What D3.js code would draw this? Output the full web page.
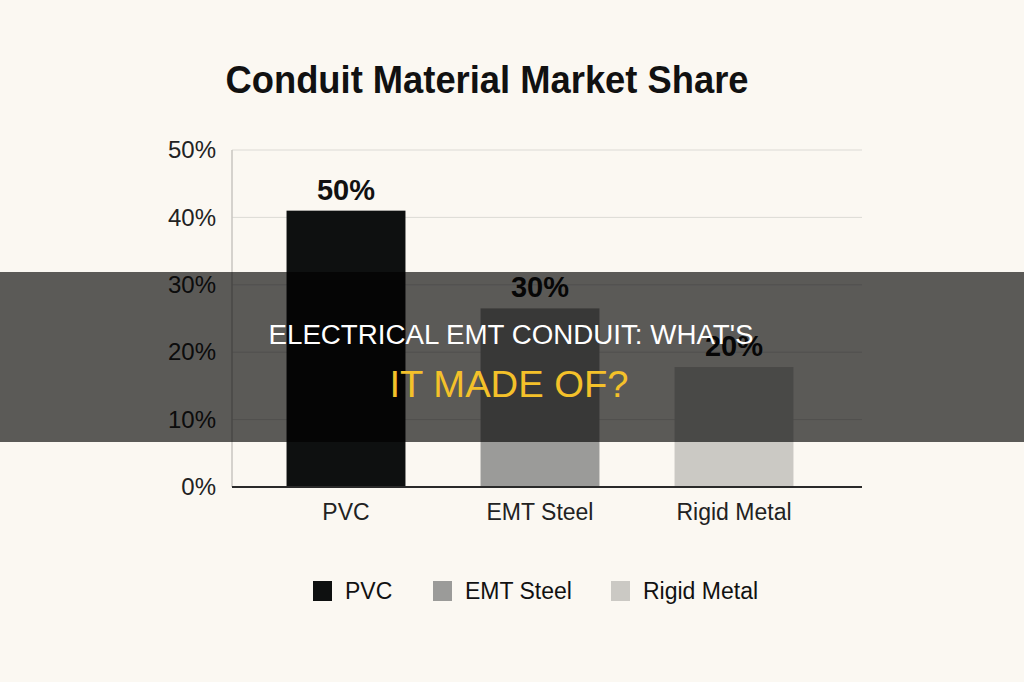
<!DOCTYPE html>
<html>
<head>
<meta charset="utf-8">
<script src="https://cdn.jsdelivr.net/npm/d3@7"></script>
<style>
  html, body { margin: 0; padding: 0; background: #fbf8f2; }
  svg { display: block; }
</style>
</head>
<body>
<div id="chart"></div>
<script>
// chart data
const categories = ["PVC", "EMT Steel", "Rigid Metal"];
const barValues = [41, 26.5, 17.8];          // bar heights as drawn
const barLabels = ["50%", "30%", "20%"];     // labels printed above bars
const barColors = ["#0e1010", "#9b9b99", "#cbc9c4"];
const yTicks = [0, 10, 20, 30, 40, 50];
const titleText = "Conduit Material Market Share";
const bannerLines = ["ELECTRICAL EMT CONDUIT: WHAT'S", "IT MADE OF?"];

const width = 1024, height = 682;
const svg = d3.select("#chart").append("svg")
    .attr("width", width)
    .attr("height", height);

svg.append("rect").attr("width", width).attr("height", height).attr("fill", "#fbf8f2");

const plot = {left: 232, right: 862, top: 150, bottom: 487};

const y = d3.scaleLinear().domain([0, 50]).range([plot.bottom, plot.top]);
const x = d3.scaleBand().domain(categories).range([249, 831])
    .paddingInner(0.387).paddingOuter(0.1935);
const color = d3.scaleOrdinal().domain(categories).range(barColors);

// title
svg.append("text")
    .attr("x", 487).attr("y", 93)
    .attr("text-anchor", "middle")
    .attr("font-family", "Liberation Sans, Arial, sans-serif")
    .attr("font-weight", "bold")
    .attr("font-size", 38)
    .attr("fill", "#111")
    .attr("textLength", 523)
    .attr("lengthAdjust", "spacingAndGlyphs")
    .text(titleText);

// gridlines
svg.append("g")
    .selectAll("line")
    .data(yTicks.filter(d => d > 0))
    .join("line")
    .attr("x1", plot.left).attr("x2", plot.right)
    .attr("y1", d => y(d)).attr("y2", d => y(d))
    .attr("stroke", "#dcdad5").attr("stroke-width", 1);

// left axis line
svg.append("line")
    .attr("x1", plot.left).attr("x2", plot.left)
    .attr("y1", plot.top).attr("y2", plot.bottom)
    .attr("stroke", "#c8c6c1").attr("stroke-width", 1.5);

// y axis labels
const yAxis = d3.axisLeft(y).tickValues(yTicks).tickFormat(d => d + "%").tickSize(0).tickPadding(16);
const yg = svg.append("g").attr("transform", `translate(${plot.left},0)`).call(yAxis);
yg.select(".domain").remove();
yg.selectAll("text")
    .attr("font-family", "Liberation Sans, Arial, sans-serif")
    .attr("font-size", 24)
    .attr("fill", "#222");

// bars
svg.append("g")
    .selectAll("rect")
    .data(categories)
    .join("rect")
    .attr("x", d => x(d))
    .attr("width", x.bandwidth())
    .attr("y", (d, i) => y(barValues[i]))
    .attr("height", (d, i) => y(0) - y(barValues[i]))
    .attr("fill", d => color(d));

// bar value labels
svg.append("g")
    .selectAll("text")
    .data(categories)
    .join("text")
    .attr("x", d => x(d) + x.bandwidth() / 2)
    .attr("y", (d, i) => y(barValues[i]) - 11)
    .attr("text-anchor", "middle")
    .attr("font-family", "Liberation Sans, Arial, sans-serif")
    .attr("font-weight", "bold")
    .attr("font-size", 29)
    .attr("fill", "#111")
    .text((d, i) => barLabels[i]);

// baseline
svg.append("line")
    .attr("x1", plot.left).attr("x2", plot.right)
    .attr("y1", plot.bottom).attr("y2", plot.bottom)
    .attr("stroke", "#2a2a2a").attr("stroke-width", 2);

// x axis labels
const xAxis = d3.axisBottom(x).tickSize(0).tickPadding(17);
const xg = svg.append("g").attr("transform", `translate(0,${plot.bottom})`).call(xAxis);
xg.select(".domain").remove();
xg.selectAll("text")
    .attr("font-family", "Liberation Sans, Arial, sans-serif")
    .attr("font-size", 23)
    .attr("fill", "#222");

// legend
const legendX = [313, 433, 611];
const legend = svg.append("g")
    .selectAll("g")
    .data(categories)
    .join("g")
    .attr("transform", (d, i) => `translate(${legendX[i]},581)`);
legend.append("rect")
    .attr("width", 19).attr("height", 20)
    .attr("fill", d => color(d));
legend.append("text")
    .attr("x", 32).attr("y", 18)
    .attr("font-family", "Liberation Sans, Arial, sans-serif")
    .attr("font-size", 23)
    .attr("fill", "#111")
    .text(d => d);

// dark banner overlay
svg.append("rect")
    .attr("x", 0).attr("y", 272)
    .attr("width", width).attr("height", 170)
    .attr("fill", "#000").attr("fill-opacity", 0.64);

svg.append("text")
    .attr("x", 511).attr("y", 344)
    .attr("text-anchor", "middle")
    .attr("font-family", "Liberation Sans, Arial, sans-serif")
    .attr("font-size", 27)
    .attr("fill", "#ffffff")
    .attr("textLength", 485)
    .attr("lengthAdjust", "spacingAndGlyphs")
    .text(bannerLines[0]);

svg.append("text")
    .attr("x", 509).attr("y", 397)
    .attr("text-anchor", "middle")
    .attr("font-family", "Liberation Sans, Arial, sans-serif")
    .attr("font-size", 37)
    .attr("fill", "#f4c12a")
    .attr("textLength", 239)
    .attr("lengthAdjust", "spacingAndGlyphs")
    .text(bannerLines[1]);
</script>
</body>
</html>
